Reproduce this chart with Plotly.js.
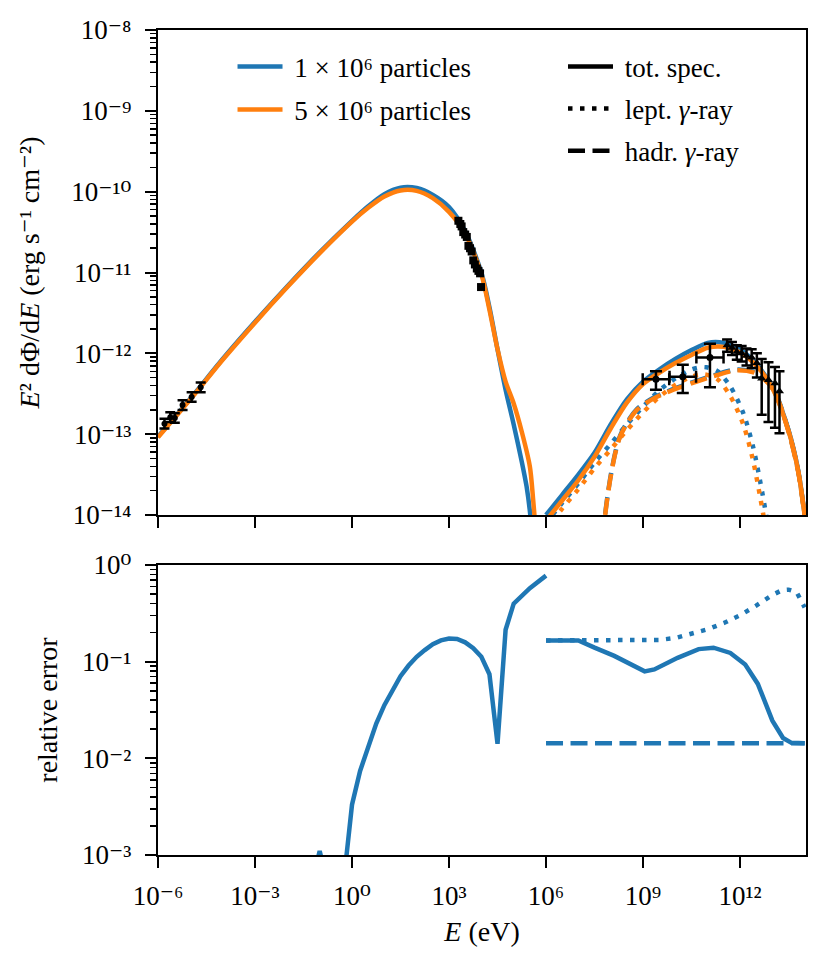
<!DOCTYPE html>
<html><head><meta charset="utf-8">
<script src="https://cdn.plot.ly/plotly-3.0.1.min.js"></script>
<style>html,body{margin:0;padding:0;background:#fff}#chart{width:830px;height:972px}</style>
</head><body><div id="chart"></div>
<script>
// ===== data (log10 of E in eV, log10 of flux / relative error) =====
const blueSynchLogE = [-6,-5,-4,-3,-2,-1,0,0.5,1,1.5,2,2.5,3,3.5,4,4.25,4.5,4.75,5,5.25,5.4,5.5,5.6];
const blueSynchLogF = [-13.03,-12.56,-12.07,-11.61,-11.17,-10.75,-10.36,-10.18,-10.03,-9.95,-9.955,-10.04,-10.19,-10.49,-11.0,-11.43,-11.95,-12.45,-12.88,-13.34,-13.65,-13.95,-14.4];
const orangeSynchLogE = [-6,-5,-4,-3,-2,-1,0,0.5,1,1.5,2,2.5,3,3.5,4,4.25,4.5,4.75,5,5.25,5.5,5.6,5.7];
const orangeSynchLogF = [-13.04,-12.57,-12.08,-11.62,-11.18,-10.76,-10.37,-10.2,-10.06,-9.985,-9.99,-10.08,-10.25,-10.52,-11.02,-11.46,-11.95,-12.35,-12.62,-12.97,-13.4,-13.8,-14.3];

const gammaTotLogE = [6.0,6.5,7.0,7.5,8.0,8.5,9.0,9.5,10.0,10.5,11.0,11.5,12.0,12.5,13.0,13.5,13.8,14.0];
const blueTotLogF = [-14.0,-13.75,-13.5,-13.23,-12.88,-12.57,-12.35,-12.2,-12.07,-11.96,-11.87,-11.87,-11.95,-12.13,-12.42,-12.95,-13.45,-14.0];
const orangeTotLogF = [-14.07,-13.82,-13.57,-13.28,-12.93,-12.61,-12.38,-12.24,-12.12,-12.02,-11.93,-11.92,-11.99,-12.15,-12.43,-12.96,-13.46,-14.01];

const leptLogE = [6.2,6.5,7.0,7.5,8.0,8.5,9.0,9.5,10.0,10.5,10.9,11.3,11.7,12.1,12.4,12.7,12.85];
const blueLeptLogF = [-14.0,-13.85,-13.61,-13.35,-13.12,-12.88,-12.66,-12.46,-12.31,-12.2,-12.17,-12.22,-12.41,-12.74,-13.15,-13.75,-14.1];
const orangeLeptLogF = [-14.07,-13.92,-13.68,-13.42,-13.19,-12.95,-12.73,-12.54,-12.39,-12.29,-12.26,-12.32,-12.53,-12.88,-13.32,-13.95,-14.3];

const hadrLogE = [7.78,7.83,7.98,8.14,8.29,8.5,8.81,9.32,9.94,10.66,11.28,11.89,12.51,13.03,13.5,13.8,14.0];
const blueHadrLogF = [-14.29,-13.99,-13.56,-13.23,-13.02,-12.86,-12.69,-12.55,-12.44,-12.34,-12.26,-12.2,-12.24,-12.44,-12.96,-13.46,-14.01];
const orangeHadrLogF = [-14.3,-14.0,-13.57,-13.24,-13.03,-12.87,-12.7,-12.56,-12.45,-12.35,-12.27,-12.21,-12.25,-12.45,-12.97,-13.47,-14.02];

// observations
const radioLogE = [-5.8,-5.62,-5.48,-5.24,-4.96,-4.68];
const radioLogF = [-12.87,-12.79,-12.8,-12.64,-12.54,-12.42];
const radioErrDex = [0.06,0.06,0.06,0.06,0.06,0.06];

const xrayLogE = [3.29,3.35,3.39,3.44,3.5,3.55,3.6,3.65,3.7,3.75,3.8,3.86,3.91,3.96,3.99];
const xrayLogF = [-10.36,-10.4,-10.43,-10.5,-10.53,-10.56,-10.67,-10.7,-10.74,-10.85,-10.9,-10.95,-10.98,-11.01,-11.18];

const fermiLogE = [9.4,10.23,11.07];
const fermiLogF = [-12.32,-12.29,-12.05];
const fermiUpDex = [0.1,0.15,0.17];
const fermiDownDex = [0.13,0.2,0.37];
const fermiXErrDex = [0.41,0.41,0.42];

const hessLogE = [11.6,11.75,11.9,12.05,12.2,12.36,12.52,12.67,12.88,13.08,13.22];
const hessLogF = [-11.9,-11.93,-11.98,-12.0,-12.03,-12.05,-12.12,-12.31,-12.33,-12.37,-12.47];
const hessUpDex = [0.07,0.07,0.08,0.09,0.09,0.1,0.12,0.24,0.22,0.2,0.25];
const hessDownDex = [0.08,0.09,0.1,0.1,0.12,0.13,0.18,0.45,0.52,0.55,0.52];

// relative error panel
const relSynchLogE = [-1.25,-1.0,-0.75,-0.5,-0.25,0,0.25,0.5,0.75,1,1.25,1.5,1.75,2,2.25,2.5,2.75,3,3.25,3.5,3.75,4,4.25,4.5,4.75,5,5.5,6];
const relSynchLog = [-3.3,-2.96,-3.3,-3.6,-3.25,-2.48,-2.13,-1.88,-1.64,-1.45,-1.3,-1.15,-1.04,-0.95,-0.88,-0.82,-0.78,-0.76,-0.765,-0.8,-0.86,-0.95,-1.13,-1.85,-0.67,-0.4,-0.24,-0.11];
const relTotLogE = [6.0,7.0,7.5,8.11,9.05,9.35,10.07,10.72,11.18,11.7,12.16,12.55,13.0,13.33,13.59,14.0];
const relTotLog = [-0.78,-0.78,-0.855,-0.94,-1.1,-1.08,-0.96,-0.87,-0.855,-0.91,-1.03,-1.23,-1.61,-1.79,-1.84,-1.845];
const relLeptLogE = [6.0,7.0,8.0,9.0,9.5,10.0,10.5,11.0,11.5,12.0,12.5,13.0,13.3,13.5,13.75,14.0];
const relLeptLog = [-0.78,-0.78,-0.78,-0.78,-0.775,-0.755,-0.715,-0.665,-0.6,-0.52,-0.42,-0.31,-0.26,-0.255,-0.28,-0.44];
const relHadrLogE = [6,8,10,12,14];
const relHadrLog = [-1.845,-1.845,-1.845,-1.845,-1.845];

// ticks and labels
const xTickVals = [1e-6,1e-3,1e0,1e3,1e6,1e9,1e12];
const xTickText = ['10⁻⁶','10⁻³','10⁰','10³','10⁶','10⁹','10¹²'];
const yTopTickVals = [1e-14,1e-13,1e-12,1e-11,1e-10,1e-9,1e-8];
const yTopTickText = ['10⁻¹⁴','10⁻¹³','10⁻¹²','10⁻¹¹','10⁻¹⁰','10⁻⁹','10⁻⁸'];
const yBotTickVals = [1e-3,1e-2,1e-1,1e0];
const yBotTickText = ['10⁻³','10⁻²','10⁻¹','10⁰'];
const seriesNames = ['\u00a01 × 10⁶ particles','\u00a05 × 10⁶ particles'];
const componentNames = ['\u00a0tot. spec.','\u00a0lept. <i>γ</i>-ray','\u00a0hadr. <i>γ</i>-ray'];

// ===== styling =====
const BLUE = '#1f77b4', ORANGE = '#ff7f0e';
const LW = 4.5;
const DOT = '4.5px,7.5px';
const DASH = '17px,7.5px';
const FONT = '"Liberation Serif", "DejaVu Serif", serif';

const p10 = a => a.map(v => Math.pow(10, v));
const upLin = (lf, d) => lf.map((v, i) => Math.pow(10, v + d[i]) - Math.pow(10, v));
const dnLin = (lf, d) => lf.map((v, i) => Math.pow(10, v) - Math.pow(10, v - d[i]));

function curve(lx, ly, color, dash, xa, ya, extra) {
  return Object.assign({
    type: 'scatter', mode: 'lines', x: p10(lx), y: p10(ly), xaxis: xa, yaxis: ya,
    line: {color: color, width: LW, dash: dash, shape: ya === 'y' ? 'spline' : 'linear', smoothing: 0.8},
    showlegend: false, hoverinfo: 'skip'
  }, extra || {});
}

const traces = [
  curve(blueSynchLogE, blueSynchLogF, BLUE, 'solid', 'x', 'y', {showlegend: true, name: seriesNames[0], legend: 'legend', legendgroup: 'b'}),
  curve(gammaTotLogE, blueTotLogF, BLUE, 'solid', 'x', 'y'),
  curve(leptLogE, blueLeptLogF, BLUE, DOT, 'x', 'y'),
  curve(hadrLogE, blueHadrLogF, BLUE, DASH, 'x', 'y'),
  curve(orangeSynchLogE, orangeSynchLogF, ORANGE, 'solid', 'x', 'y', {showlegend: true, name: seriesNames[1], legend: 'legend', legendgroup: 'o'}),
  curve(gammaTotLogE, orangeTotLogF, ORANGE, 'solid', 'x', 'y'),
  curve(leptLogE, orangeLeptLogF, ORANGE, DOT, 'x', 'y'),
  curve(hadrLogE, orangeHadrLogF, ORANGE, DASH, 'x', 'y'),
  // observations
  {type: 'scatter', mode: 'markers', x: p10(radioLogE), y: p10(radioLogF), xaxis: 'x', yaxis: 'y',
   marker: {color: 'black', size: 6, symbol: 'circle'}, showlegend: false,
   error_y: {type: 'data', symmetric: false, array: upLin(radioLogF, radioErrDex), arrayminus: dnLin(radioLogF, radioErrDex), color: 'black', thickness: 2.5, width: 5}},
  {type: 'scatter', mode: 'markers', x: p10(xrayLogE), y: p10(xrayLogF), xaxis: 'x', yaxis: 'y',
   marker: {color: 'black', size: 8, symbol: 'square'}, showlegend: false},
  {type: 'scatter', mode: 'markers', x: p10(fermiLogE), y: p10(fermiLogF), xaxis: 'x', yaxis: 'y',
   marker: {color: 'black', size: 7, symbol: 'circle'}, showlegend: false,
   error_y: {type: 'data', symmetric: false, array: upLin(fermiLogF, fermiUpDex), arrayminus: dnLin(fermiLogF, fermiDownDex), color: 'black', thickness: 2.5, width: 6},
   error_x: {type: 'data', symmetric: false, array: upLin(fermiLogE, fermiXErrDex), arrayminus: dnLin(fermiLogE, fermiXErrDex), color: 'black', thickness: 2.5, width: 6}},
  {type: 'scatter', mode: 'markers', x: p10(hessLogE), y: p10(hessLogF), xaxis: 'x', yaxis: 'y',
   marker: {color: 'black', size: 8, symbol: 'triangle-up'}, showlegend: false,
   error_y: {type: 'data', symmetric: false, array: upLin(hessLogF, hessUpDex), arrayminus: dnLin(hessLogF, hessDownDex), color: 'black', thickness: 2.5, width: 5}},
  // component legend entries
  {type: 'scatter', mode: 'lines', x: [null], y: [null], xaxis: 'x', yaxis: 'y', name: componentNames[0], legend: 'legend2', legendgroup: 't', line: {color: 'black', width: LW, dash: 'solid'}},
  {type: 'scatter', mode: 'lines', x: [null], y: [null], xaxis: 'x', yaxis: 'y', name: componentNames[1], legend: 'legend2', legendgroup: 'l', line: {color: 'black', width: LW, dash: DOT}},
  {type: 'scatter', mode: 'lines', x: [null], y: [null], xaxis: 'x', yaxis: 'y', name: componentNames[2], legend: 'legend2', legendgroup: 'h', line: {color: 'black', width: LW, dash: DASH}},
  // relative error panel
  curve(relSynchLogE, relSynchLog, BLUE, 'solid', 'x2', 'y2'),
  curve(relTotLogE, relTotLog, BLUE, 'solid', 'x2', 'y2'),
  curve(relLeptLogE, relLeptLog, BLUE, DOT, 'x2', 'y2'),
  curve(relHadrLogE, relHadrLog, BLUE, DASH, 'x2', 'y2')
];

function minorVals(lo, hi) {
  const v = [];
  for (let k = lo; k < hi; k++) for (let m = 2; m <= 9; m++) v.push(m * Math.pow(10, k));
  return v;
}

const TICKFONT = {family: FONT, size: 27, color: 'black'};
const TITLEFONT = {family: FONT, size: 28, color: 'black'};
const LEGFONT = {family: FONT, size: 27, color: 'black'};
const axisBase = {
  type: 'log', showline: true, linecolor: 'black', linewidth: 2.2, mirror: true,
  ticks: 'outside', ticklen: 11, tickwidth: 2, tickcolor: 'black',
  showgrid: false, zeroline: false, tickfont: TICKFONT, tickmode: 'array', automargin: false
};
const minorBase = {ticks: 'outside', ticklen: 6, tickwidth: 1.5, tickcolor: 'black', showgrid: false};

const layout = {
  width: 830, height: 972,
  margin: {l: 158, r: 24, t: 30, b: 117, pad: 0},
  paper_bgcolor: 'white', plot_bgcolor: 'white',
  font: {family: FONT, size: 26, color: 'black'},
  showlegend: true,
  legend: {x: 0.115, y: 0.985, xanchor: 'left', yanchor: 'top', bgcolor: 'rgba(0,0,0,0)', borderwidth: 0,
           font: LEGFONT, itemwidth: 45, tracegroupgap: 5, traceorder: 'grouped'},
  legend2: {x: 0.625, y: 0.985, xanchor: 'left', yanchor: 'top', bgcolor: 'rgba(0,0,0,0)', borderwidth: 0,
            font: LEGFONT, itemwidth: 45, tracegroupgap: 4, traceorder: 'grouped'},
  xaxis: Object.assign({}, axisBase, {domain: [0, 1], anchor: 'y', range: [-6, 14.04],
          tickvals: xTickVals, ticktext: xTickText, showticklabels: false}),
  yaxis: Object.assign({}, axisBase, {domain: [0.4121, 1], anchor: 'x', range: [-14, -8],
          tickvals: yTopTickVals, ticktext: yTopTickText, ticklabelstandoff: 8,
          minor: Object.assign({tickvals: minorVals(-14, -8)}, minorBase),
          title: {text: '<i>E</i>² dΦ/d<i>E</i> (erg s⁻¹ cm⁻²)', font: TITLEFONT, standoff: 24}}),
  xaxis2: Object.assign({}, axisBase, {domain: [0, 1], anchor: 'y2', range: [-6, 14.04],
          tickvals: xTickVals, ticktext: xTickText, ticklabelstandoff: 4,
          title: {text: '<i>E</i> (eV)', font: TITLEFONT, standoff: 12}}),
  yaxis2: Object.assign({}, axisBase, {domain: [0, 0.3515], anchor: 'x2', range: [-3, 0],
          tickvals: yBotTickVals, ticktext: yBotTickText, ticklabelstandoff: 8,
          minor: Object.assign({tickvals: minorVals(-3, 0)}, minorBase),
          title: {text: 'relative error', font: TITLEFONT, standoff: 16}})
};

Plotly.newPlot('chart', traces, layout, {displayModeBar: false, responsive: false, staticPlot: true}).then(gd => {
  gd.querySelectorAll('text tspan').forEach(ts => {
    const px = parseFloat(window.getComputedStyle(ts).fontSize);
    if (px) ts.style.fontSize = px + 'px';
  });
});
</script>
</body></html>
